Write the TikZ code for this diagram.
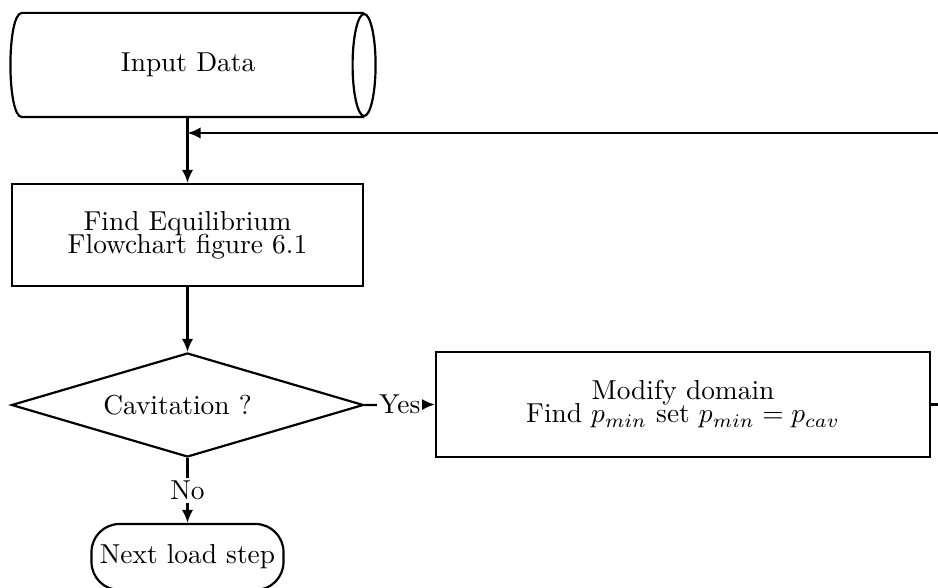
\documentclass[tikz,border=0pt]{standalone}
\usetikzlibrary{shapes.geometric,arrows.meta}
% one drawing unit in pt
\newcommand{\pxu}{0.365pt}
\begin{document}
\begin{tikzpicture}[
  x=\pxu, y=-\pxu,
  line width=0.8pt,
  flowline/.style={draw, -{Latex[length=4.8pt,width=4.2pt]}},
  datastore/.style={rectangle, inner sep=0pt,
    minimum width={340*\pxu}, minimum height={102*\pxu}},
  procbox/.style={draw, rectangle, align=center,
    font={\fontsize{10}{8.4}\selectfont\lineskiplimit=-10pt}, inner sep=0pt},
  decision/.style={draw, diamond, aspect=3.4, inner sep=0pt,
    minimum width={352*\pxu}, minimum height={104*\pxu}},
  terminal/.style={draw, rectangle, rounded corners={28*\pxu},
    minimum width={192*\pxu}, minimum height={66*\pxu}, inner sep=0pt},
  lbl/.style={fill=white, inner xsep=0.6pt, inner ysep=1pt}
]
\clip (0,0) rectangle (938,588);

% stored-data symbol: body with a curved back and an elliptic front end
\node[datastore] (input) at (193,65) {Input Data\hspace*{3.6pt}};
\draw (input.north east) -- (input.north west)
  .. controls +(-15.3,0) and +(-15.3,0) .. (input.south west)
  -- (input.south east);
\draw (input.east) ellipse [x radius=11.5, y radius=51];

% process nodes
\node[procbox, minimum width={351*\pxu}, minimum height={102*\pxu}]
  (equil) at (187.5,235) {Find Equilibrium\\Flowchart figure 6.1};
\node[decision] (cav) at (187.5,405) {Cavitation ?\hspace*{7.3pt}};
\node[procbox, minimum width={494*\pxu}, minimum height={105*\pxu}]
  (modify) at (683,404.5) {Modify domain\\Find $p_{min}$ set $p_{min}=p_{cav}$};
\node[terminal] (next) at (187.5,557) {Next load step};

% connectors
\coordinate (merge) at (equil.north |- 0,133);
\draw[flowline] (input.south -| equil.north) -- (equil.north);
\draw[flowline] (equil.south) -- (cav.north);
\draw[flowline] (cav.east) -- node[lbl] {Yes} (modify.west);
\draw[flowline] (cav.south) -- node[lbl] {No} (next.north);
\draw[flowline] (modify.east) -- ++(40,0) |- (merge);
\end{tikzpicture}
\end{document}
